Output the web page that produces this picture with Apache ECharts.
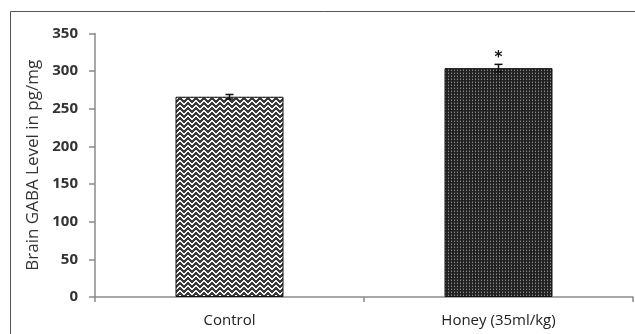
<!DOCTYPE html>
<html>
<head>
<meta charset="utf-8">
<script src="https://cdn.jsdelivr.net/npm/echarts@6/dist/echarts.min.js"></script>
<style>
  html, body { margin: 0; padding: 0; background: #fff; }
  #chart { width: 635px; height: 334px; }
</style>
</head>
<body>
<div id="chart"></div>
<script>
// Brain GABA level per group (pg/mg), with SEM error bars and significance marks
const categories = ['Control', 'Honey (35ml/kg)'];
const gabaLevels = [266, 304];
const gabaErrors = [3, 5];
const significance = ['', '*'];
const yTicks = { min: 0, max: 350, interval: 50 };

// Zig-zag hatch fill for the control bar
function zigzagPattern() {
  const c = document.createElement('canvas');
  c.width = 8; c.height = 5;
  const ctx = c.getContext('2d');
  ctx.fillStyle = '#3a3a3a';
  ctx.fillRect(0, 0, 8, 5);
  ctx.fillStyle = '#f4f4f4';
  const rows = [3, 2, 1, 0, 0, 1, 2, 3];
  for (let x = 0; x < 8; x++) {
    ctx.fillRect(x, rows[x], 1, 1);
    ctx.fillRect(x, (rows[x] + 1) % 5, 1, 1);
  }
  return c;
}

// Dense dotted fill for the honey bar
function dottedPattern() {
  const c = document.createElement('canvas');
  c.width = 3; c.height = 3;
  const ctx = c.getContext('2d');
  ctx.fillStyle = '#222';
  ctx.fillRect(0, 0, 3, 3);
  ctx.fillStyle = '#8c8c8c';
  ctx.fillRect(1, 1, 1, 1);
  ctx.fillStyle = '#4a4a4a';
  ctx.fillRect(1, 0, 1, 1);
  return c;
}

const fills = [zigzagPattern(), dottedPattern()];

const chart = echarts.init(document.getElementById('chart'), null, { renderer: 'canvas' });

const option = {
  animation: false,
  backgroundColor: '#fff',
  graphic: [{
    type: 'rect',
    shape: { x: 10.5, y: 11.5, width: 640, height: 340 },
    style: { fill: 'none', stroke: '#555', lineWidth: 1 },
    z: -1
  }],
  grid: { left: 95, right: 2, top: 33.5, bottom: 37 },
  xAxis: {
    type: 'category',
    data: categories,
    axisLine: { lineStyle: { color: '#8a8a8a', width: 1.5 } },
    axisTick: { show: true, length: 5, alignWithLabel: false, lineStyle: { color: '#8a8a8a', width: 1.5 } },
    axisLabel: { color: '#222', fontSize: 15, fontFamily: 'Open Sans', margin: 16 }
  },
  yAxis: {
    type: 'value',
    min: yTicks.min,
    max: yTicks.max,
    interval: yTicks.interval,
    name: 'Brain GABA Level in pg/mg',
    nameLocation: 'middle',
    nameGap: 53,
    nameRotate: 90,
    nameTextStyle: { color: '#333', fontSize: 17, fontFamily: 'Open Sans' },
    axisLine: { show: true, lineStyle: { color: '#8a8a8a', width: 1.5 } },
    axisTick: { show: true, length: 6, lineStyle: { color: '#8a8a8a', width: 1.5 } },
    axisLabel: { color: '#333', fontSize: 15, fontWeight: 'bold', fontFamily: 'Open Sans', margin: 17 },
    splitLine: { show: false }
  },
  series: [
    {
      type: 'bar',
      barWidth: 108,
      data: gabaLevels.map((v, i) => ({
        value: v,
        itemStyle: {
          color: { image: fills[i], repeat: 'repeat' },
          borderColor: '#111',
          borderWidth: 1
        }
      }))
    },
    {
      type: 'custom',
      z: 5,
      data: gabaLevels.map((v, i) => [i, v, gabaErrors[i]]),
      renderItem: function (params, api) {
        const i = api.value(0);
        const mean = api.value(1);
        const err = api.value(2);
        const top = api.coord([i, mean + err]);
        const bottom = api.coord([i, mean - err]);
        const half = 4;
        const children = [
          { type: 'line', shape: { x1: top[0], y1: top[1], x2: bottom[0], y2: bottom[1] }, style: { stroke: '#111', lineWidth: 1.5 } },
          { type: 'line', shape: { x1: top[0] - half, y1: top[1], x2: top[0] + half, y2: top[1] }, style: { stroke: '#111', lineWidth: 1.5 } },
          { type: 'line', shape: { x1: bottom[0] - half, y1: bottom[1], x2: bottom[0] + half, y2: bottom[1] }, style: { stroke: '#111', lineWidth: 1.5 } }
        ];
        if (significance[i]) {
          children.push({
            type: 'text',
            style: {
              text: significance[i],
              x: top[0],
              y: top[1] - 6,
              textAlign: 'center',
              textVerticalAlign: 'middle',
              fill: '#111',
              fontSize: 15,
              fontWeight: 'bold',
              fontFamily: 'DejaVu Sans'
            }
          });
        }
        return { type: 'group', children: children };
      }
    }
  ]
};

chart.setOption(option);
</script>
</body>
</html>
